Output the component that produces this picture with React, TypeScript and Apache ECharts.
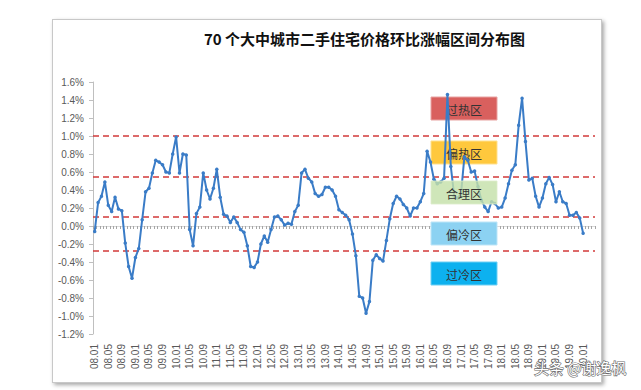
import React, { useEffect, useRef } from "react";
import * as echarts from "echarts";

// ---- data ----
const startYear = 2008;
const categoryCount = 148; // 08.01 .. 20.04
const categories: string[] = [];
for (let i = 0; i < categoryCount; i++) {
  const y = startYear + Math.floor(i / 12);
  const m = (i % 12) + 1;
  categories.push(String(y % 100).padStart(2, "0") + "." + String(m).padStart(2, "0"));
}

// month-on-month change (%) of second-hand housing prices, 08.01 .. 20.01
const momValues: number[] = [
  -0.06, 0.26, 0.33, 0.49, 0.23, 0.16, 0.32, 0.19, 0.17, -0.19, -0.45, -0.58,
  -0.35, -0.25, 0.07, 0.38, 0.42, 0.59, 0.73, 0.71, 0.68, 0.6, 0.59, 0.8,
  0.99, 0.59, 0.8, 0.79, -0.04, -0.22, 0.14, 0.21, 0.59, 0.4, 0.3, 0.42,
  0.63, 0.32, 0.13, 0.11, 0.04, 0.1, 0.04, -0.04, -0.07, -0.22, -0.45, -0.46,
  -0.4, -0.2, -0.11, -0.18, -0.04, 0.1, 0.11, 0.07, 0.01, 0.03, 0.02, 0.16,
  0.23, 0.59, 0.63, 0.53, 0.49, 0.36, 0.33, 0.35, 0.43, 0.43, 0.4, 0.33,
  0.18, 0.15, 0.12, 0.07, -0.09, -0.33, -0.78, -0.8, -0.97, -0.84, -0.38, -0.32,
  -0.36, -0.39, -0.16, 0.08, 0.25, 0.33, 0.3, 0.24, 0.2, 0.11, 0.2, 0.2,
  0.27, 0.36, 0.83, 0.71, 0.52, 0.47, 0.49, 0.53, 1.46, 0.66, 0.33, 0.31,
  0.36, 0.77, 0.73, 0.6, 0.61, 0.44, 0.29, 0.21, 0.16, 0.27, 0.25, 0.2,
  0.21, 0.31, 0.47, 0.62, 0.68, 1.12, 1.42, 0.94, 0.51, 0.53, 0.33, 0.21,
  0.31, 0.47, 0.54, 0.46, 0.27, 0.38, 0.27, 0.25, 0.12, 0.12, 0.15, 0.09,
  -0.08,
];

const thresholds: number[] = [1.0, 0.55, 0.1, -0.27];

const zoneNames: string[] = ["过热区", "偏热区", "合理区", "偏冷区", "过冷区"];
const zoneColors: string[] = ["#D9605E", "#FFC83D", "#C5E0AA", "#8CD2F2", "#0DB1EF"];
const zoneBorders: string[] = ["#E8A3A2", "#FFE08F", "#DDEDCB", "#BDE5F7", "#6FCFF3"];
const zoneTops: number[] = [97, 141, 181, 222, 262];

const title = "70 个大中城市二手住宅价格环比涨幅区间分布图";
const watermark = "头条 @谢逸枫";

export default function App() {
  const ref = useRef<HTMLDivElement>(null);

  useEffect(() => {
    if (!ref.current) return;
    const chart = echarts.init(ref.current, undefined, { renderer: "svg" });

    const zoneGraphics: any[] = zoneNames.map((name, i) => ({
      type: "group",
      z: i === 2 ? 20 : 1,
      children: [
        {
          type: "rect",
          shape: { x: 431, y: zoneTops[i], width: 66, height: 23 },
          style: {
            fill: zoneColors[i],
            stroke: zoneBorders[i],
            lineWidth: 1,
            opacity: i === 2 ? 0.82 : 1,
          },
          z: i === 2 ? 20 : 1,
        },
        {
          type: "text",
          x: 464,
          y: zoneTops[i] + 12,
          style: {
            text: name,
            fill: "#333333",
            font: "12px 'Noto Sans CJK SC'",
            align: "center",
            verticalAlign: "middle",
          },
          z: i === 2 ? 21 : 1,
        },
      ],
    }));

    chart.setOption({
      animation: false,
      backgroundColor: "transparent",
      title: {
        text: title,
        left: 199,
        top: 26,
        textStyle: {
          fontSize: 15,
          fontWeight: "bold",
          color: "#111111",
          fontFamily: "'Noto Sans CJK SC'",
        },
      },
      grid: { left: 93, top: 82, right: 46, bottom: 56 },
      xAxis: [
        {
          type: "category",
          data: categories,
          boundaryGap: true,
          position: "bottom",
          axisLine: { show: false, onZero: false },
          axisTick: { show: false },
          axisLabel: {
            interval: 3,
            rotate: 90,
            fontSize: 10,
            color: "#595959",
            fontFamily: "'Liberation Sans'",
            margin: 10,
          },
          splitLine: { show: false },
        },
        {
          type: "category",
          data: categories,
          boundaryGap: true,
          position: "bottom",
          axisLine: { show: true, onZero: true, lineStyle: { color: "#D9D9D9", width: 1 } },
          axisTick: { show: true, interval: 0, length: 3, lineStyle: { color: "#A6A6A6" } },
          axisLabel: { show: false },
          splitLine: { show: false },
        },
      ],
      yAxis: {
        type: "value",
        min: -1.2,
        max: 1.6,
        interval: 0.2,
        axisLine: { show: true, lineStyle: { color: "#BFBFBF" } },
        axisTick: { show: true, length: 4, lineStyle: { color: "#BFBFBF" } },
        splitLine: { show: false },
        axisLabel: {
          formatter: (v: number) => v.toFixed(1) + "%",
          fontSize: 10,
          color: "#595959",
          fontFamily: "'Liberation Sans'",
          margin: 9,
        },
      },
      series: [
        {
          type: "line",
          xAxisIndex: 0,
          data: momValues,
          z: 5,
          symbol: "circle",
          symbolSize: 3.5,
          showSymbol: true,
          showAllSymbol: true,
          itemStyle: { color: "#3A7CC7" },
          lineStyle: { color: "#3A7CC7", width: 2 },
          markLine: {
            silent: true,
            symbol: "none",
            label: { show: false },
            lineStyle: { color: "#D23A3A", type: [6, 4], width: 1.5 },
            data: thresholds.map((v) => ({ yAxis: v })),
          },
        },
      ],
      graphic: [
        ...zoneGraphics,
        {
          type: "text",
          x: 534,
          y: 360,
          z: 30,
          style: {
            text: watermark,
            fill: "#ffffff",
            stroke: "#6b6b6b",
            lineWidth: 1.2,
            font: "15px 'Noto Sans CJK SC'",
          },
        },
      ],
    });

    return () => chart.dispose();
  }, []);

  return (
    <div style={{ position: "fixed", left: 0, top: 0, width: 641, height: 390, background: "#ffffff" }}>
      <div
        style={{
          position: "absolute",
          left: 52,
          top: 19,
          width: 548,
          height: 362,
          border: "1px solid #C8C8C8",
          boxShadow: "2px 2px 4px rgba(0,0,0,0.35)",
          background: "#ffffff",
        }}
      />
      <div ref={ref} style={{ position: "absolute", left: 0, top: 0, width: 641, height: 390 }} />
    </div>
  );
}
